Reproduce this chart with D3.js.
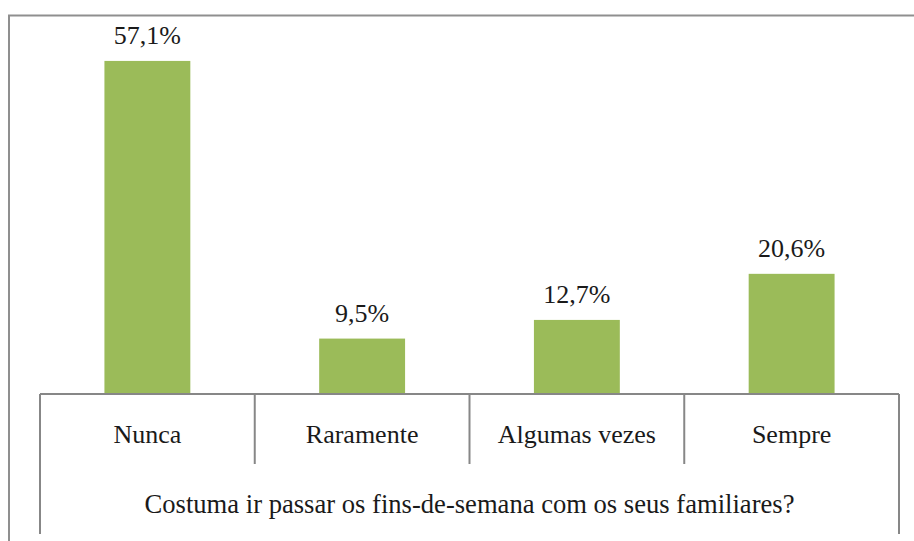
<!DOCTYPE html>
<html>
  <head>
    <meta charset="utf-8">
    <script src="https://d3js.org/d3.v7.min.js"></script>
  </head>
  <body style="margin:0">
    <svg width="914" height="541"></svg>
    <script>
      // Data
      const categories = ['Nunca', 'Raramente', 'Algumas vezes', 'Sempre'];
      const values = [57.1, 9.5, 12.7, 20.6];
      const valueLabels = ['57,1%', '9,5%', '12,7%', '20,6%'];
      const axisTitle = 'Costuma ir passar os fins-de-semana com os seus familiares?';

      const svg = d3.select('svg');
      const left = 40, right = 899, baseY = 394;
      const lineColor = '#878787';
      const font = '"Liberation Serif"';
      const textColor = '#1a1a1a';

      // outer frame (runs off the bottom and right of the picture)
      svg.append('path')
        .attr('d', 'M9,541 V15.5 H914')
        .attr('fill', 'none')
        .attr('stroke', '#8f8f8f')
        .attr('stroke-width', 2);

      const xScale = d3.scaleBand()
        .domain(categories)
        .range([left, right])
        .paddingInner(0.6)
        .paddingOuter(0.3);

      const yScale = d3.scaleLinear()
        .domain([0, 60])
        .range([baseY, 44]);

      const data = categories.map((c, i) => ({ cat: c, value: values[i], label: valueLabels[i] }));

      // bars
      svg.selectAll('rect.bar').data(data)
        .enter().append('rect')
          .attr('class', 'bar')
          .attr('x', d => xScale(d.cat))
          .attr('y', d => yScale(d.value))
          .attr('width', xScale.bandwidth())
          .attr('height', d => baseY - yScale(d.value))
          .attr('fill', '#9bbb59');

      // value labels
      svg.selectAll('text.val').data(data)
        .enter().append('text')
          .attr('class', 'val')
          .attr('x', d => xScale(d.cat) + xScale.bandwidth() / 2)
          .attr('y', d => yScale(d.value) - 17)
          .attr('text-anchor', 'middle')
          .attr('font-size', 26)
          .attr('fill', textColor)
          .style('font-family', font)
          .text(d => d.label);

      // category axis line and separators
      const step = xScale.step();
      svg.append('line')
        .attr('x1', left).attr('x2', right)
        .attr('y1', baseY).attr('y2', baseY)
        .attr('stroke', lineColor).attr('stroke-width', 2);

      d3.range(categories.length + 1).forEach(i => {
        const outer = i === 0 || i === categories.length;
        svg.append('line')
          .attr('x1', left + i * step).attr('x2', left + i * step)
          .attr('y1', baseY).attr('y2', outer ? 534 : 464)
          .attr('stroke', lineColor).attr('stroke-width', 2);
      });

      // category labels
      svg.selectAll('text.cat').data(categories)
        .enter().append('text')
          .attr('class', 'cat')
          .attr('x', d => xScale(d) + xScale.bandwidth() / 2)
          .attr('y', 443)
          .attr('text-anchor', 'middle')
          .attr('font-size', 26)
          .attr('fill', textColor)
          .style('font-family', font)
          .text(d => d);

      // axis title row
      svg.append('text')
        .attr('x', (left + right) / 2)
        .attr('y', 513)
        .attr('text-anchor', 'middle')
        .attr('font-size', 26.6)
        .attr('fill', textColor)
        .style('font-family', font)
        .text(axisTitle);
    </script>
  </body>
</html>
